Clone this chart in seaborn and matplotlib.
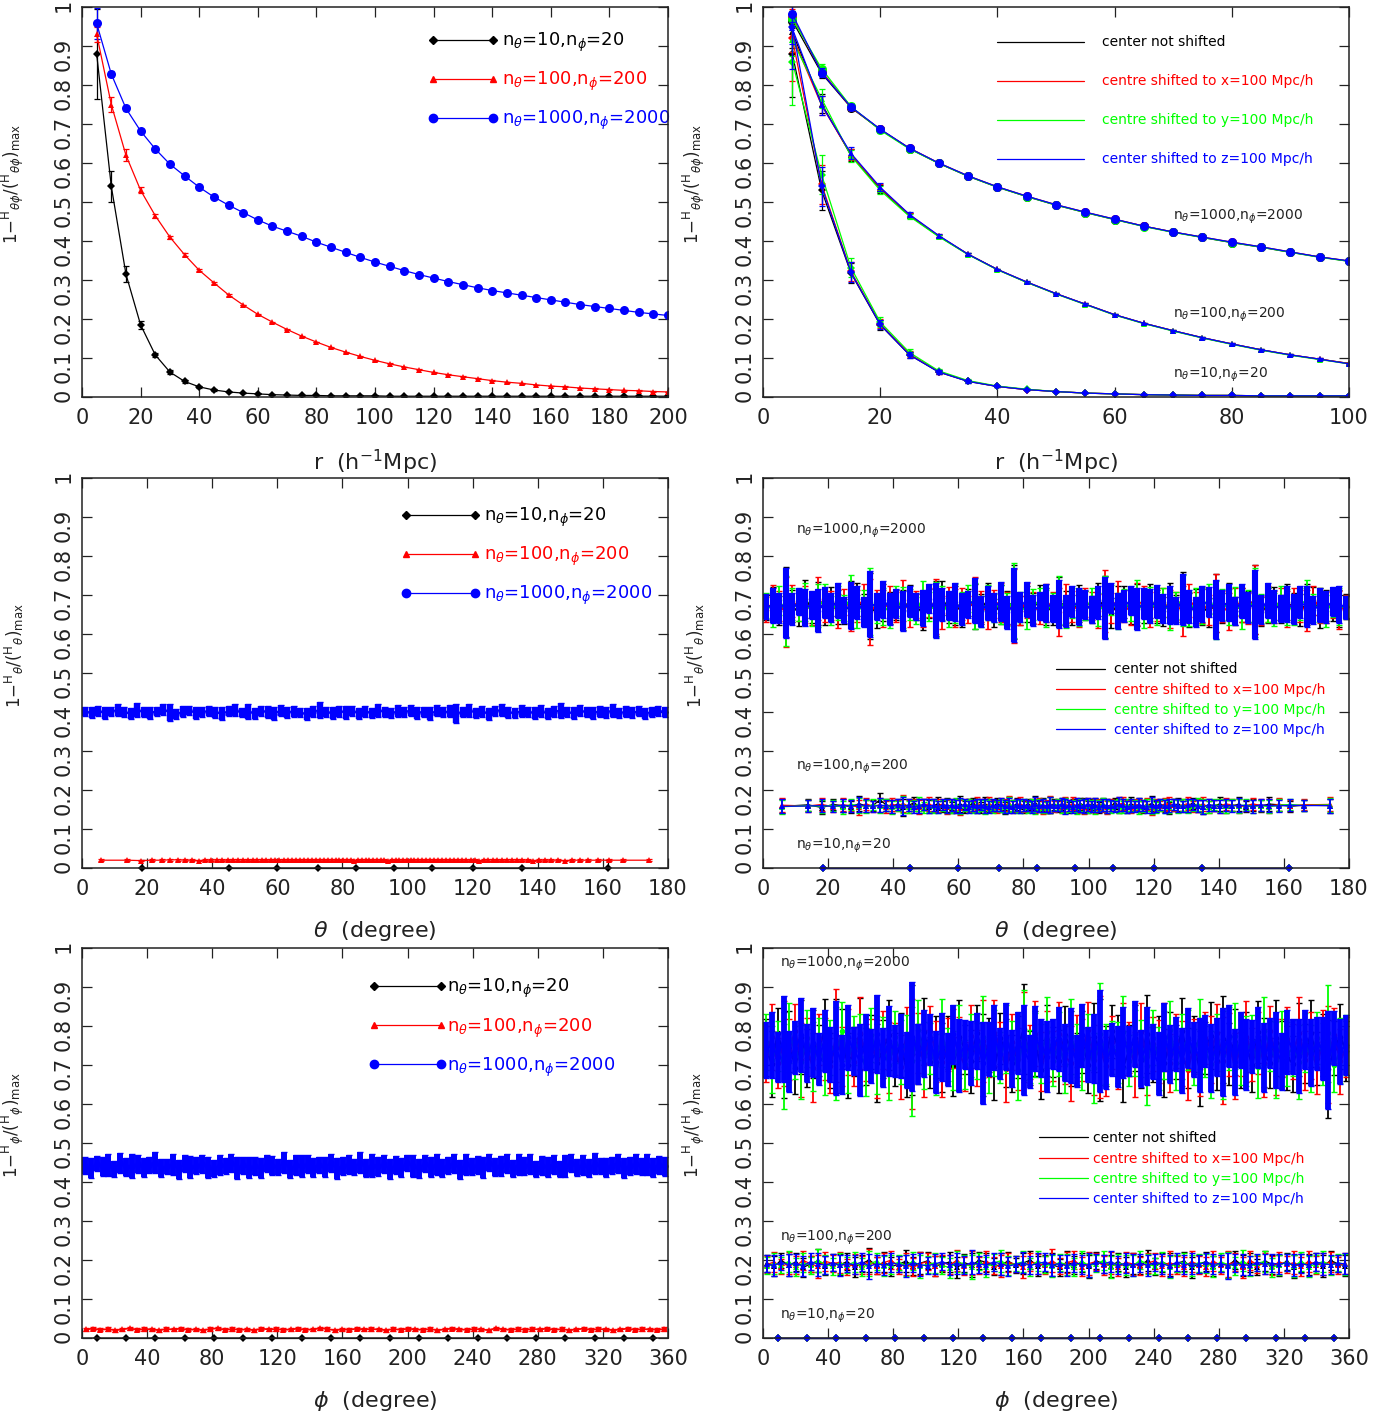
import numpy as np
import matplotlib
matplotlib.use("Agg")
import matplotlib.pyplot as plt
import seaborn as sns
from matplotlib.lines import Line2D

sns.set_style("ticks")
plt.rcParams['font.family'] = ['DejaVu Sans']
plt.rcParams['mathtext.fontset'] = 'dejavusans'

# ---------------- data ----------------
# colours of the four centre choices
black, red, green, blue = '#000000', '#ff0000', '#00ff00', '#0000ff'
centre_colors = [black, red, green, blue]
centre_labels = ['center not shifted', 'centre shifted to x=100 Mpc/h',
                 'centre shifted to y=100 Mpc/h', 'center shifted to z=100 Mpc/h']
grid_labels = [r'n$_\theta$=10,n$_\phi$=20', r'n$_\theta$=100,n$_\phi$=200',
               r'n$_\theta$=1000,n$_\phi$=2000']

# top left: r = 5..200
r_long = list(range(5, 205, 5))
tl_n10 = [0.880, 0.540, 0.315, 0.185, 0.108, 0.064, 0.040, 0.026, 0.018, 0.013,
          0.010, 0.008, 0.006, 0.005, 0.004, 0.004, 0.003, 0.003, 0.003, 0.003,
          0.002, 0.002, 0.002, 0.002, 0.002, 0.002, 0.002, 0.002, 0.002, 0.002,
          0.002, 0.002, 0.002, 0.002, 0.002, 0.002, 0.002, 0.002, 0.002, 0.002]
tl_n10_err = [0.115, 0.040, 0.020, 0.010, 0.006, 0.004, 0.003, 0.002, 0.002, 0.001] + [0.001] * 30
tl_n100 = [0.930, 0.750, 0.620, 0.530, 0.465, 0.410, 0.365, 0.325, 0.293, 0.262,
           0.236, 0.212, 0.192, 0.173, 0.156, 0.141, 0.127, 0.115, 0.104, 0.094,
           0.085, 0.077, 0.070, 0.063, 0.057, 0.052, 0.047, 0.042, 0.038, 0.035,
           0.031, 0.028, 0.026, 0.023, 0.021, 0.019, 0.017, 0.016, 0.014, 0.013]
tl_n100_err = [0.020, 0.020, 0.015, 0.008, 0.005, 0.004, 0.003, 0.003, 0.002, 0.002] + [0.001] * 30
tl_n1000 = [0.958, 0.828, 0.740, 0.682, 0.636, 0.597, 0.567, 0.538, 0.513, 0.492,
            0.473, 0.454, 0.438, 0.425, 0.412, 0.397, 0.384, 0.371, 0.358, 0.346,
            0.335, 0.324, 0.314, 0.305, 0.296, 0.288, 0.280, 0.273, 0.267, 0.261,
            0.255, 0.249, 0.243, 0.237, 0.232, 0.227, 0.222, 0.217, 0.213, 0.209]
tl_n1000_err = [0.040, 0.008, 0.006, 0.005, 0.004, 0.003] + [0.002] * 34

# top right: r = 5..100, one list per centre (black, red, green, blue)
r_short = list(range(5, 105, 5))
tr_n1000 = [
    [0.965, 0.830, 0.742, 0.686, 0.637, 0.599, 0.566, 0.538, 0.514, 0.492,
     0.473, 0.455, 0.438, 0.423, 0.409, 0.396, 0.384, 0.371, 0.359, 0.348],
    [0.975, 0.835, 0.743, 0.686, 0.638, 0.600, 0.567, 0.539, 0.515, 0.493,
     0.474, 0.456, 0.438, 0.423, 0.410, 0.397, 0.385, 0.372, 0.359, 0.349],
    [0.970, 0.842, 0.745, 0.684, 0.636, 0.599, 0.566, 0.538, 0.514, 0.492,
     0.473, 0.455, 0.437, 0.422, 0.409, 0.396, 0.384, 0.371, 0.358, 0.348],
    [0.982, 0.832, 0.744, 0.687, 0.638, 0.600, 0.567, 0.539, 0.515, 0.493,
     0.474, 0.456, 0.438, 0.423, 0.410, 0.397, 0.385, 0.372, 0.359, 0.349]]
tr_n1000_err = [0.020, 0.012, 0.008, 0.006, 0.004, 0.003, 0.003] + [0.002] * 13
tr_n100 = [
    [0.935, 0.752, 0.620, 0.534, 0.465, 0.412, 0.366, 0.327, 0.294, 0.265,
     0.238, 0.211, 0.189, 0.170, 0.152, 0.136, 0.121, 0.108, 0.097, 0.086],
    [0.925, 0.748, 0.622, 0.536, 0.467, 0.413, 0.366, 0.327, 0.295, 0.265,
     0.238, 0.211, 0.189, 0.170, 0.152, 0.136, 0.121, 0.108, 0.097, 0.086],
    [0.915, 0.765, 0.618, 0.530, 0.463, 0.411, 0.365, 0.326, 0.294, 0.264,
     0.237, 0.210, 0.188, 0.169, 0.151, 0.135, 0.120, 0.107, 0.096, 0.085],
    [0.945, 0.748, 0.625, 0.538, 0.468, 0.414, 0.366, 0.327, 0.295, 0.265,
     0.238, 0.211, 0.189, 0.170, 0.152, 0.136, 0.121, 0.108, 0.097, 0.085]]
tr_n100_err = [0.040, 0.025, 0.015, 0.010, 0.006, 0.004, 0.003] + [0.002] * 13
tr_n10 = [
    [0.880, 0.530, 0.318, 0.185, 0.108, 0.064, 0.040, 0.027, 0.019, 0.014,
     0.010, 0.008, 0.006, 0.005, 0.004, 0.004, 0.003, 0.003, 0.003, 0.003],
    [0.920, 0.545, 0.322, 0.188, 0.110, 0.065, 0.041, 0.027, 0.019, 0.014,
     0.010, 0.008, 0.006, 0.005, 0.004, 0.004, 0.003, 0.003, 0.003, 0.003],
    [0.860, 0.570, 0.332, 0.192, 0.114, 0.067, 0.042, 0.028, 0.020, 0.014,
     0.010, 0.008, 0.006, 0.005, 0.004, 0.004, 0.003, 0.003, 0.003, 0.003],
    [0.950, 0.540, 0.320, 0.186, 0.108, 0.064, 0.040, 0.027, 0.019, 0.014,
     0.010, 0.008, 0.006, 0.005, 0.004, 0.004, 0.003, 0.003, 0.003, 0.003]]
tr_n10_err = [0.110, 0.050, 0.025, 0.012, 0.008, 0.005, 0.003, 0.002] + [0.001] * 12

# middle row: theta profiles (values in units of 1e-3)
th10_vals = [0, 0, 0, 0, 0, 0, 0, 0, 0, 0]
th10_err = [20, 1, 1, 1, 1, 1, 1, 1, 1, 20]
ml_red100 = [20, 20, 19, 20, 20, 21, 21, 20, 20, 19,
             20, 20, 21, 20, 20, 20, 21, 20, 20, 20,
             21, 20, 20, 20, 21, 20, 20, 21, 20, 20,
             20, 21, 20, 20, 20, 21, 20, 20, 21, 20,
             20, 20, 21, 20, 19, 20, 20, 21, 20, 20,
             21, 20, 20, 19, 20, 20, 21, 20, 20, 20,
             20, 21, 20, 20, 21, 20, 20, 20, 21, 20,
             20, 20, 21, 20, 20, 20, 19, 20, 21, 20,
             20, 20, 20, 21, 20, 20, 20, 19, 20, 20,
             20, 20, 19, 20, 20, 20, 20, 20, 20, 20]
ml_red100_err = 2
ml_blue1000 = [401, 398, 403, 397, 402, 405, 399, 396, 404, 400,
               398, 402, 406, 399, 395, 401, 404, 397, 400, 403,
               399, 396, 402, 405, 398, 401, 397, 403, 400, 396,
               404, 399, 402, 398, 395, 401, 405, 400, 397, 402,
               399, 403, 396, 401, 398, 404, 400, 397, 402, 399,
               405, 398, 401, 396, 403, 399, 402, 397, 400, 404,
               398, 401, 395, 402, 406, 399, 397, 403, 400, 398,
               402, 396, 401, 404, 399, 397, 403, 400, 398, 402,
               399, 404, 397, 401, 398, 402, 396, 400, 403, 400]
ml_blue1000_err = [12, 14, 13, 16, 12, 15, 13, 14, 18, 13,
                   15, 12, 14, 22, 13, 15, 12, 16, 14, 13,
                   14, 16, 13, 15, 12, 19, 14, 13, 15, 16,
                   13, 15, 14, 12, 16, 14, 21, 13, 15, 14,
                   16, 13, 15, 14, 13, 17, 14, 12, 15, 13,
                   14, 15, 13, 16, 14, 13, 15, 24, 14, 16,
                   13, 14, 16, 13, 15, 14, 12, 16, 13, 15,
                   15, 13, 14, 20, 13, 15, 14, 13, 16, 14,
                   14, 16, 13, 15, 14, 13, 15, 14, 12, 13]

mr_n1000 = [
    [668, 675, 660, 682, 671, 655, 690, 665, 678, 662,
     684, 670, 658, 676, 689, 664, 672, 651, 680, 667,
     674, 661, 686, 669, 656, 679, 666, 692, 663, 673,
     659, 681, 670, 664, 687, 655, 675, 668, 683, 660,
     677, 665, 690, 671, 657, 684, 668, 662, 679, 673,
     663, 688, 669, 654, 676, 682, 661, 674, 667, 685,
     670, 658, 681, 666, 693, 662, 677, 669, 655, 680,
     667, 684, 660, 675, 671, 688, 657, 672, 678, 664,
     681, 668, 662, 676, 685, 659, 673, 670, 665, 672],
    [662, 680, 671, 657, 685, 668, 676, 660, 691, 670,
     674, 659, 683, 667, 672, 688, 656, 678, 665, 681,
     669, 686, 658, 675, 664, 680, 671, 655, 684, 667,
     678, 663, 689, 670, 657, 676, 682, 665, 672, 660,
     685, 668, 661, 679, 673, 656, 687, 670, 664, 681,
     672, 659, 684, 666, 690, 671, 658, 677, 683, 663,
     676, 681, 664, 672, 659, 686, 668, 675, 662, 679,
     670, 657, 682, 674, 666, 689, 661, 677, 669, 684,
     665, 679, 671, 660, 686, 673, 668, 677, 662, 669],
    [673, 664, 686, 659, 677, 669, 682, 656, 672, 688,
     661, 679, 667, 692, 658, 675, 683, 664, 670, 657,
     685, 668, 676, 660, 689, 671, 663, 680, 654, 678,
     666, 691, 672, 658, 681, 667, 675, 662, 686, 670,
     659, 676, 683, 665, 671, 688, 657, 679, 668, 674,
     682, 663, 670, 687, 660, 675, 669, 684, 656, 677,
     665, 680, 658, 673, 686, 664, 678, 671, 690, 661,
     676, 669, 684, 657, 672, 681, 666, 675, 663, 687,
     670, 662, 678, 685, 667, 674, 659, 680, 671, 668],
    [670, 672, 666, 679, 663, 684, 668, 675, 660, 681,
     667, 686, 662, 674, 680, 657, 677, 671, 688, 664,
     678, 659, 683, 670, 666, 690, 661, 676, 673, 682,
     663, 675, 686, 658, 679, 668, 684, 656, 674, 669,
     688, 661, 672, 680, 665, 677, 659, 683, 670, 676,
     662, 681, 667, 692, 658, 673, 686, 664, 679, 671,
     684, 666, 675, 661, 689, 670, 657, 678, 682, 663,
     673, 680, 659, 685, 668, 676, 662, 687, 671, 666,
     678, 664, 682, 670, 661, 675, 669, 684, 676, 668]]
mr_n1000_err = [32, 45, 38, 90, 41, 35, 48, 36, 55, 40,
                37, 44, 33, 60, 42, 39, 85, 35, 47, 41,
                38, 52, 40, 34, 46, 37, 70, 43, 36, 49,
                41, 35, 58, 39, 44, 36, 50, 42, 95, 38,
                45, 40, 36, 48, 34, 62, 41, 39, 47, 37,
                35, 43, 80, 38, 46, 41, 36, 54, 40, 44,
                42, 37, 49, 35, 65, 43, 39, 46, 38, 75,
                39, 47, 36, 44, 40, 88, 37, 45, 42, 35,
                46, 38, 41, 53, 36, 44, 40, 37, 48, 30]
mr_n100 = [
    [158, 162, 155, 163, 160, 157, 165, 159, 161, 175,
     162, 158, 164, 156, 161, 167, 159, 163, 157, 160,
     165, 158, 162, 155, 160, 164, 157, 161, 166, 159,
     156, 163, 160, 158, 165, 161, 154, 162, 159, 164,
     160, 157, 163, 159, 166, 158, 162, 155, 161, 163,
     158, 164, 160, 156, 162, 159, 165, 161, 157, 163,
     161, 155, 163, 159, 160, 166, 158, 162, 157, 164,
     159, 162, 156, 161, 165, 158, 163, 160, 154, 162,
     163, 158, 161, 166, 159, 157, 162, 160, 164, 158,
     160, 163, 157, 161, 159, 164, 162, 158, 161, 160],
    [161, 159, 163, 157, 162, 160, 156, 164, 158, 162,
     157, 163, 160, 165, 158, 161, 156, 162, 164, 159,
     160, 164, 157, 162, 159, 155, 163, 160, 158, 165,
     162, 158, 165, 159, 156, 163, 161, 166, 157, 160,
     164, 159, 157, 162, 160, 165, 156, 161, 163, 158,
     161, 157, 163, 160, 165, 158, 162, 156, 164, 159,
     158, 164, 160, 156, 162, 159, 163, 166, 160, 157,
     163, 160, 158, 164, 157, 161, 159, 163, 166, 161,
     159, 162, 165, 158, 160, 163, 157, 161, 159, 164,
     162, 158, 160, 164, 161, 159, 163, 160, 162, 163],
    [157, 160, 158, 161, 156, 163, 160, 158, 162, 159,
     161, 156, 159, 162, 157, 160, 163, 155, 160, 158,
     156, 161, 159, 157, 163, 158, 160, 162, 156, 161,
     160, 157, 162, 155, 159, 161, 157, 163, 160, 158,
     158, 162, 156, 160, 157, 163, 159, 155, 161, 160,
     163, 158, 161, 157, 159, 156, 162, 160, 158, 161,
     157, 160, 163, 158, 156, 161, 159, 157, 162, 160,
     160, 156, 159, 162, 158, 155, 161, 159, 157, 163,
     158, 161, 157, 160, 163, 159, 156, 162, 160, 158,
     161, 159, 162, 158, 160, 157, 161, 163, 160, 162],
    [158, 159, 160, 158, 161, 159, 162, 160, 158, 161,
     160, 158, 162, 159, 161, 157, 160, 163, 159, 161,
     157, 162, 159, 161, 158, 160, 163, 157, 161, 159,
     162, 159, 157, 161, 160, 163, 158, 160, 157, 162,
     159, 161, 160, 157, 163, 159, 161, 158, 162, 160,
     160, 163, 158, 161, 157, 162, 159, 160, 163, 158,
     161, 157, 162, 159, 160, 158, 163, 161, 156, 160,
     158, 162, 160, 157, 161, 159, 162, 158, 160, 163,
     160, 158, 161, 163, 159, 157, 162, 160, 158, 161,
     159, 161, 160, 158, 162, 160, 159, 161, 160, 160]]
mr_n100_err = [18, 15, 16, 14, 17, 15, 19, 16, 14, 18,
               15, 17, 14, 22, 16, 15, 18, 14, 17, 16,
               16, 14, 18, 15, 17, 20, 15, 16, 14, 17,
               14, 18, 16, 15, 14, 17, 16, 19, 15, 16,
               17, 15, 14, 16, 18, 15, 17, 14, 21, 15,
               15, 16, 19, 14, 16, 17, 15, 18, 16, 14,
               18, 14, 16, 17, 15, 14, 18, 16, 15, 17,
               14, 17, 15, 16, 20, 15, 14, 17, 16, 15,
               16, 15, 17, 14, 16, 18, 15, 14, 17, 16,
               15, 18, 14, 16, 15, 17, 16, 15, 14, 18]

# bottom row: phi profiles (values in units of 1e-3)
ph20_vals = [0] * 20
bl_red200 = [22, 24, 21, 23, 20, 22, 25, 21, 23, 22,
             20, 23, 22, 24, 21, 22, 20, 23, 25, 21,
             23, 21, 22, 20, 24, 22, 23, 21, 22, 24,
             21, 22, 25, 23, 20, 22, 21, 24, 22, 23,
             22, 20, 23, 21, 24, 22, 21, 23, 20, 22,
             24, 22, 21, 23, 22, 20, 25, 22, 21, 23,
             21, 23, 22, 24, 21, 23, 20, 22, 24, 21,
             23, 22, 20, 22, 24, 21, 23, 22, 21, 23]
bl_red200_err = 4
bl_blue2000 = [442, 436, 447, 439, 444, 433, 449, 438, 441, 446,
               437, 443, 450, 435, 440, 445, 432, 448, 439, 442,
               446, 438, 434, 444, 441, 449, 436, 443, 437, 440,
               435, 447, 442, 438, 451, 433, 444, 440, 446, 437,
               443, 439, 448, 434, 441, 445, 438, 450, 436, 442,
               440, 446, 433, 443, 437, 449, 441, 435, 447, 439,
               444, 436, 442, 448, 432, 445, 439, 443, 437, 450,
               438, 441, 447, 435, 444, 440, 446, 434, 442, 439,
               445, 433, 440, 449, 438, 443, 436, 447, 441, 437,
               442, 448, 435, 441, 446, 439, 444, 437, 443, 440]
bl_blue2000_err = [22, 26, 20, 24, 28, 21, 25, 23, 30, 22,
                   25, 21, 27, 23, 20, 26, 24, 22, 28, 21,
                   23, 27, 22, 25, 21, 24, 29, 22, 26, 23,
                   26, 22, 24, 21, 27, 23, 25, 28, 22, 24,
                   21, 25, 23, 27, 22, 24, 20, 26, 23, 29,
                   24, 22, 26, 23, 25, 21, 27, 24, 22, 25,
                   27, 23, 21, 25, 24, 26, 22, 23, 28, 21,
                   23, 26, 24, 22, 27, 23, 25, 21, 24, 26,
                   25, 21, 28, 24, 22, 26, 23, 27, 21, 24,
                   22, 24, 26, 23, 25, 22, 27, 24, 23, 25]

br_n2000 = [
    [745, 702, 781, 726, 760, 693, 772, 718, 754, 737,
     790, 711, 748, 767, 699, 735, 779, 722, 758, 705,
     741, 776, 714, 752, 688, 764, 729, 785, 707, 746,
     720, 758, 697, 772, 739, 709, 783, 726, 751, 694,
     768, 731, 704, 746, 792, 717, 755, 688, 763, 734,
     709, 777, 742, 716, 759, 700, 771, 738, 723, 786,
     751, 696, 738, 769, 714, 780, 727, 745, 706, 762,
     733, 788, 719, 754, 691, 743, 775, 710, 766, 728,
     759, 713, 747, 699, 784, 732, 705, 770, 741, 718,
     703, 765, 729, 781, 717, 752, 690, 744, 773, 736],
    [728, 771, 704, 755, 739, 788, 712, 747, 693, 766,
     741, 698, 776, 722, 759, 707, 783, 731, 750, 715,
     764, 719, 741, 695, 779, 728, 757, 703, 786, 735,
     707, 752, 768, 730, 696, 774, 717, 761, 738, 782,
     743, 691, 759, 715, 771, 733, 780, 709, 748, 724,
     779, 725, 704, 762, 738, 790, 713, 746, 697, 758,
     716, 767, 745, 701, 785, 722, 754, 735, 772, 706,
     761, 730, 687, 748, 715, 769, 739, 782, 711, 753,
     698, 744, 773, 726, 757, 705, 788, 720, 744, 767,
     735, 781, 712, 750, 693, 762, 727, 776, 709, 745],
    [760, 714, 749, 696, 782, 731, 707, 768, 722, 754,
     703, 745, 729, 786, 712, 763, 738, 694, 777, 725,
     747, 699, 771, 733, 756, 710, 789, 724, 742, 701,
     782, 727, 712, 760, 702, 749, 735, 772, 697, 756,
     719, 766, 740, 688, 777, 722, 751, 730, 784, 709,
     754, 701, 773, 737, 715, 759, 692, 780, 728, 745,
     733, 785, 711, 756, 742, 698, 770, 716, 751, 790,
     706, 747, 764, 721, 775, 735, 702, 758, 726, 768,
     775, 720, 736, 761, 695, 787, 748, 713, 766, 729,
     744, 708, 758, 717, 770, 728, 781, 700, 737, 752],
    [738, 752, 721, 766, 709, 744, 776, 730, 757, 715,
     762, 727, 743, 701, 771, 736, 712, 759, 724, 780,
     719, 761, 735, 748, 713, 773, 728, 754, 766, 707,
     746, 714, 779, 725, 752, 731, 762, 705, 741, 770,
     729, 773, 717, 757, 738, 709, 768, 744, 721, 755,
     767, 732, 750, 711, 776, 727, 743, 762, 714, 739,
     722, 758, 736, 780, 716, 749, 734, 704, 772, 728,
     754, 711, 769, 740, 726, 761, 718, 747, 733, 775,
     708, 764, 727, 748, 771, 719, 756, 738, 710, 760,
     747, 723, 766, 732, 755, 742, 713, 769, 735, 751]]
br_n2000_err = [72, 85, 64, 110, 78, 68, 95, 74, 88, 66,
                80, 70, 120, 76, 84, 62, 92, 73, 69, 100,
                75, 90, 67, 82, 71, 140, 77, 86, 65, 79,
                88, 68, 76, 94, 63, 81, 72, 105, 70, 84,
                66, 87, 73, 79, 115, 69, 83, 75, 91, 64,
                82, 74, 96, 67, 80, 71, 89, 130, 76, 68,
                78, 92, 65, 84, 73, 100, 70, 81, 87, 74,
                69, 83, 77, 71, 95, 66, 86, 74, 112, 80,
                85, 72, 90, 68, 79, 88, 64, 97, 73, 82,
                71, 94, 75, 86, 67, 80, 125, 70, 84, 77]
br_n200 = [
    [192, 184, 199, 187, 195, 181, 190, 198, 185, 193,
     188, 196, 182, 191, 200, 186, 194, 183, 189, 197,
     185, 192, 198, 184, 190, 195, 181, 193, 187, 199,
     194, 183, 189, 197, 186, 192, 200, 184, 191, 188,
     181, 195, 187, 193, 184, 198, 190, 185, 196, 182,
     191, 186, 199, 183, 194, 188, 192, 197, 181, 190,
     196, 184, 191, 187, 200, 185, 193, 182, 198, 189,
     186, 197, 183, 192, 188, 195, 184, 199, 190, 185],
    [188, 195, 183, 192, 186, 199, 190, 184, 197, 191,
     194, 182, 190, 187, 196, 185, 193, 200, 183, 189,
     181, 191, 196, 185, 193, 188, 199, 184, 192, 186,
     197, 186, 184, 194, 189, 182, 195, 190, 187, 198,
     185, 193, 199, 183, 191, 196, 186, 192, 181, 194,
     190, 184, 192, 198, 185, 193, 187, 183, 196, 188,
     183, 197, 186, 190, 194, 181, 199, 188, 191, 185,
     195, 189, 193, 184, 197, 187, 190, 195, 186, 192],
    [185, 191, 187, 196, 182, 193, 186, 199, 189, 184,
     192, 187, 195, 181, 190, 197, 184, 188, 194, 186,
     197, 184, 189, 193, 186, 180, 195, 190, 183, 196,
     182, 193, 198, 186, 191, 195, 183, 197, 189, 185,
     194, 188, 182, 197, 186, 190, 199, 183, 192, 187,
     186, 199, 189, 184, 196, 182, 191, 194, 187, 193,
     191, 183, 195, 188, 185, 198, 184, 192, 196, 181,
     188, 194, 185, 197, 183, 190, 196, 186, 193, 189],
    [190, 186, 194, 188, 192, 185, 196, 189, 187, 193,
     186, 191, 188, 195, 184, 190, 187, 193, 189, 185,
     193, 188, 185, 190, 196, 187, 192, 186, 194, 189,
     188, 195, 190, 184, 189, 193, 186, 191, 195, 187,
     191, 185, 193, 189, 187, 194, 190, 196, 186, 192,
     187, 192, 186, 194, 190, 185, 195, 188, 191, 189,
     194, 189, 191, 185, 193, 188, 186, 194, 189, 192,
     189, 193, 187, 191, 186, 195, 190, 188, 192, 190]]
br_n200_err = [22, 26, 20, 28, 23, 25, 21, 30, 24, 22,
               27, 21, 25, 23, 32, 22, 26, 24, 20, 28,
               23, 29, 22, 26, 21, 25, 27, 23, 31, 22,
               25, 22, 28, 24, 20, 27, 23, 26, 22, 29,
               21, 27, 23, 25, 30, 22, 24, 28, 23, 26,
               28, 23, 26, 21, 25, 29, 22, 24, 27, 23,
               24, 26, 22, 33, 23, 27, 25, 21, 26, 24,
               26, 22, 29, 24, 27, 23, 28, 25, 22, 27]


def theta_bins(n):
    # centres of the n theta bins of equal solid angle
    edges = np.degrees(np.arccos(1 - 2 * np.arange(n + 1) / n))
    return (edges[:-1] + edges[1:]) / 2


def even_bins(n, span):
    return (np.arange(n) + 0.5) * span / n


def milli(v):
    return np.asarray(v, dtype=float) / 1000.


def draw(ax, x, y, err, color, marker, ms, lw=0.9, elw=0.9, cap=2, clip=True, z=2):
    sns.lineplot(x=np.asarray(x, float), y=np.asarray(y, float), ax=ax, color=color,
                 marker=marker, markersize=ms, markeredgecolor=color, markeredgewidth=0,
                 linewidth=lw, estimator=None, sort=False, legend=False, zorder=z + 1,
                 clip_on=clip)
    ax.errorbar(x, y, yerr=err, fmt='none', ecolor=color, elinewidth=elw,
                capsize=cap, capthick=min(elw, 1.0), zorder=z)


def style_axis(ax, xmax, xstep, xlabel, ylabel):
    ax.set_xlim(0, xmax)
    ax.set_ylim(0, 1)
    ax.set_xticks(np.arange(0, xmax + 1, xstep))
    ax.set_yticks(np.arange(0, 1.01, 0.1))
    ax.set_yticklabels(['0', '0.1', '0.2', '0.3', '0.4', '0.5', '0.6', '0.7', '0.8', '0.9', '1'])
    ax.tick_params(direction='in', length=7, width=0.9, top=True, right=True,
                   labelsize=15, colors='#222222', labelcolor='#222222')
    ax.tick_params(axis='x', pad=8)
    ax.tick_params(axis='y', labelrotation=90, pad=6)
    for s in ax.spines.values():
        s.set_linewidth(1.1)
        s.set_color('#222222')
        s.set_zorder(20)
    ax.set_xlabel(xlabel, fontsize=16, color='#222222')
    ax.xaxis.set_label_coords(0.5, -0.13)
    ax.set_ylabel(ylabel, fontsize=12, color='#222222')
    ax.yaxis.set_label_coords(-0.095, 0.545)


fig = plt.figure(figsize=(13.96, 14.19), dpi=100)
W, H = 1396., 1419.
lefts = [82 / W, 763 / W]
bottoms = [1 - 397 / H, 1 - 868 / H, 1 - 1338 / H]
aw, ah = 586 / W, 390 / H
(ax1, ax2), (ax3, ax4), (ax5, ax6) = [[fig.add_axes([l, b, aw, ah]) for l in lefts] for b in bottoms]

ylab_tp = r'1$-$$^{\rm H}{}_{\theta\phi}$/($^{\rm H}{}_{\theta\phi}$)$_{\rm max}$'
ylab_t = r'1$-$$^{\rm H}{}_{\theta}$/($^{\rm H}{}_{\theta}$)$_{\rm max}$'
ylab_p = r'1$-$$^{\rm H}{}_{\phi}$/($^{\rm H}{}_{\phi}$)$_{\rm max}$'
xlab_r = r'r  (h$^{-1}$Mpc)'
xlab_t = r'$\theta$  (degree)'
xlab_p = r'$\phi$  (degree)'


def marker_legend(ax, anchor, hlen, pad, spacing):
    hs = [Line2D([], [], color=black, marker='D', ms=4.5, lw=0.9),
          Line2D([], [], color=red, marker='^', ms=5, lw=0.9),
          Line2D([], [], color=blue, marker='o', ms=6, lw=0.9)]
    ax.legend(hs, grid_labels, loc='upper left', bbox_to_anchor=anchor, frameon=False,
              fontsize=13, handlelength=hlen, handletextpad=pad, labelspacing=spacing,
              borderpad=0, borderaxespad=0, numpoints=2, labelcolor='linecolor')


def centre_legend(ax, anchor, hlen, pad, spacing):
    hs = [Line2D([], [], color=c, lw=0.9) for c in centre_colors]
    leg = ax.legend(hs, centre_labels, loc='upper left', bbox_to_anchor=anchor, frameon=False,
                    fontsize=10, handlelength=hlen, handletextpad=pad, labelspacing=spacing,
                    borderpad=0, borderaxespad=0, labelcolor='linecolor')
    leg.set_zorder(30)


def grid_notes(ax, xs, ys):
    for lab, x, y in zip(grid_labels[::-1], xs, ys):
        ax.text(x, y, lab, transform=ax.transAxes, fontsize=10, color='#222222',
                ha='left', va='center', zorder=30)


# ---- top left ----
draw(ax1, r_long, tl_n10, tl_n10_err, black, 'D', 4.5)
draw(ax1, r_long, tl_n100, tl_n100_err, red, '^', 5)
draw(ax1, r_long, tl_n1000, tl_n1000_err, blue, 'o', 6.5)
style_axis(ax1, 200, 20, xlab_r, ylab_tp)
marker_legend(ax1, (0.590, 0.939), 3.93, 0.2, 0.88)

# ---- top right ----
for i, c in enumerate(centre_colors):
    draw(ax2, r_short, tr_n10[i], tr_n10_err, c, 'D', 4.5, z=2 + 2 * i)
    draw(ax2, r_short, tr_n100[i], tr_n100_err, c, '^', 5, z=2 + 2 * i)
    draw(ax2, r_short, tr_n1000[i], tr_n1000_err, c, 'o', 6.5, z=2 + 2 * i)
style_axis(ax2, 100, 20, xlab_r, ylab_tp)
centre_legend(ax2, (0.399, 0.927), 6.3, 1.3, 1.8)
grid_notes(ax2, [0.70, 0.70, 0.70], [0.462, 0.210, 0.056])

# ---- middle left ----
draw(ax3, theta_bins(10), milli(th10_vals), milli(th10_err), black, 'D', 4.5, clip=False)
draw(ax3, theta_bins(len(ml_red100)), milli(ml_red100), ml_red100_err / 1000., red, '^', 4.5)
draw(ax3, even_bins(len(ml_blue1000), 180), milli(ml_blue1000), milli(ml_blue1000_err),
     blue, 'o', 4.5, lw=1.5, elw=4.6)
style_axis(ax3, 180, 20, xlab_t, ylab_t)
marker_legend(ax3, (0.544, 0.928), 4.43, 0.2, 0.88)

# ---- middle right ----
for i, c in enumerate(centre_colors):
    z = 2 + 2 * i
    draw(ax4, theta_bins(10), milli(th10_vals), 0.001, c, 'D', 4.5, clip=False, z=z)
    draw(ax4, theta_bins(len(mr_n100[i])), milli(mr_n100[i]), milli(mr_n100_err), c, '^', 4,
         elw=1.3, z=z)
    draw(ax4, even_bins(len(mr_n1000[i]), 180), milli(mr_n1000[i]), milli(mr_n1000_err),
         c, 'o', 4, lw=1.3, elw=4.4 if c == blue else 1.3, z=z)
style_axis(ax4, 180, 20, xlab_t, ylab_t)
centre_legend(ax4, (0.5, 0.527), 3.5, 0.7, 0.45)
grid_notes(ax4, [0.056, 0.056, 0.056], [0.864, 0.259, 0.056])

# ---- bottom left ----
draw(ax5, even_bins(20, 360), milli(ph20_vals), 0.001, black, 'D', 4.5, clip=False)
draw(ax5, even_bins(len(bl_red200), 360), milli(bl_red200), bl_red200_err / 1000.,
     red, '^', 4, lw=1.3, elw=3.5)
draw(ax5, even_bins(len(bl_blue2000), 360), milli(bl_blue2000), milli(bl_blue2000_err),
     blue, 'o', 4.5, lw=1.5, elw=4.3)
style_axis(ax5, 360, 40, xlab_p, ylab_p)
marker_legend(ax5, (0.489, 0.925), 4.32, 0.02, 0.88)

# ---- bottom right ----
for i, c in enumerate(centre_colors):
    z = 2 + 2 * i
    draw(ax6, even_bins(20, 360), milli(ph20_vals), 0.001, c, 'D', 4.5, clip=False, z=z)
    draw(ax6, even_bins(len(br_n200[i]), 360), milli(br_n200[i]), milli(br_n200_err), c, '^', 4,
         elw=1.4, z=z)
    draw(ax6, even_bins(len(br_n2000[i]), 360), milli(br_n2000[i]), milli(br_n2000_err),
         c, 'o', 4, lw=1.5, elw=4.2 if c == blue else 1.3, z=z)
style_axis(ax6, 360, 40, xlab_p, ylab_p)
centre_legend(ax6, (0.471, 0.53), 3.5, 0.36, 0.45)
grid_notes(ax6, [0.029, 0.029, 0.029], [0.959, 0.258, 0.056])

fig.savefig('out.png', dpi=100)
